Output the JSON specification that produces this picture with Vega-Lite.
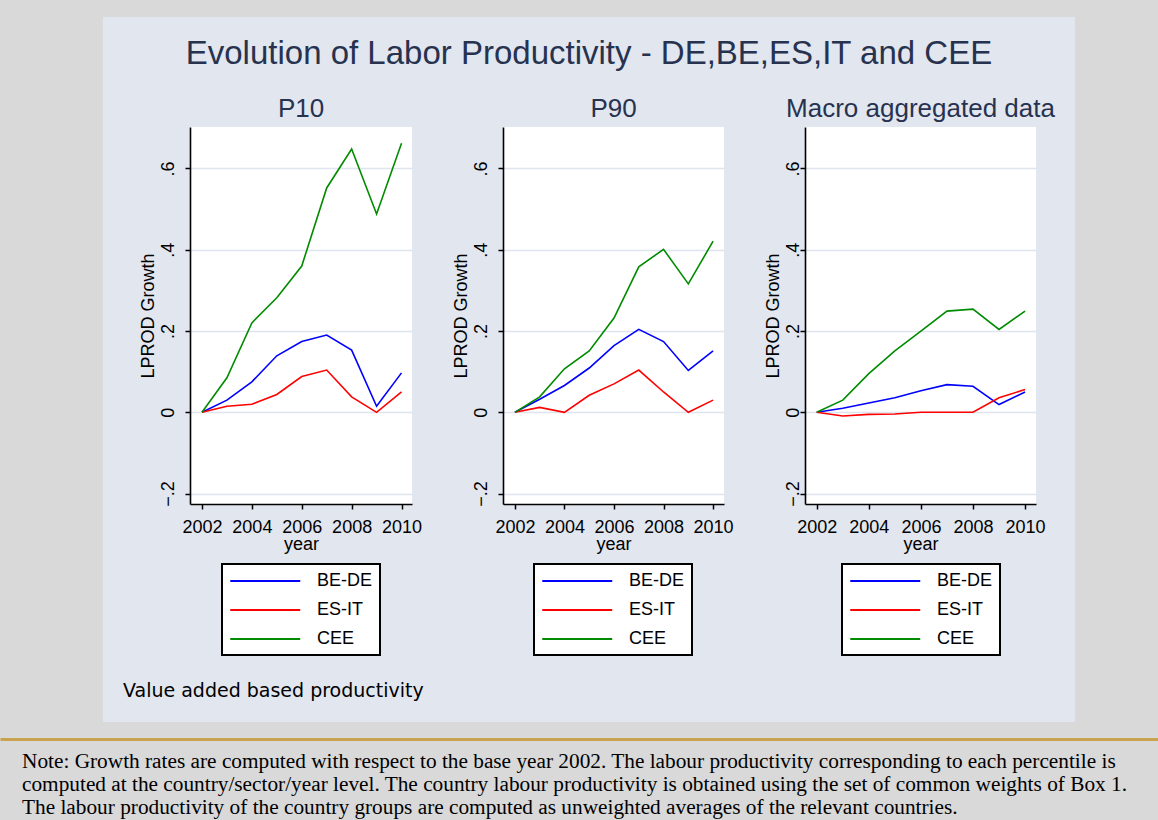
{
  "$schema": "https://vega.github.io/schema/vega-lite/v6.json",
  "background": "#e1e6ef",
  "padding": 0,
  "spacing": 0,
  "datasets": {
    "none": [],
    "lp": [
      {"panel": "P10", "series": "BE-DE", "year": 2002, "value": 0},
      {"panel": "P10", "series": "BE-DE", "year": 2003, "value": 0.030},
      {"panel": "P10", "series": "BE-DE", "year": 2004, "value": 0.075},
      {"panel": "P10", "series": "BE-DE", "year": 2005, "value": 0.139},
      {"panel": "P10", "series": "BE-DE", "year": 2006, "value": 0.174},
      {"panel": "P10", "series": "BE-DE", "year": 2007, "value": 0.190},
      {"panel": "P10", "series": "BE-DE", "year": 2008, "value": 0.153},
      {"panel": "P10", "series": "BE-DE", "year": 2009, "value": 0.015},
      {"panel": "P10", "series": "BE-DE", "year": 2010, "value": 0.097},
      {"panel": "P10", "series": "ES-IT", "year": 2002, "value": 0},
      {"panel": "P10", "series": "ES-IT", "year": 2003, "value": 0.015},
      {"panel": "P10", "series": "ES-IT", "year": 2004, "value": 0.020},
      {"panel": "P10", "series": "ES-IT", "year": 2005, "value": 0.044},
      {"panel": "P10", "series": "ES-IT", "year": 2006, "value": 0.088},
      {"panel": "P10", "series": "ES-IT", "year": 2007, "value": 0.104},
      {"panel": "P10", "series": "ES-IT", "year": 2008, "value": 0.038},
      {"panel": "P10", "series": "ES-IT", "year": 2009, "value": 0.000},
      {"panel": "P10", "series": "ES-IT", "year": 2010, "value": 0.050},
      {"panel": "P10", "series": "CEE", "year": 2002, "value": 0},
      {"panel": "P10", "series": "CEE", "year": 2003, "value": 0.085},
      {"panel": "P10", "series": "CEE", "year": 2004, "value": 0.220},
      {"panel": "P10", "series": "CEE", "year": 2005, "value": 0.282},
      {"panel": "P10", "series": "CEE", "year": 2006, "value": 0.360},
      {"panel": "P10", "series": "CEE", "year": 2007, "value": 0.552},
      {"panel": "P10", "series": "CEE", "year": 2008, "value": 0.648},
      {"panel": "P10", "series": "CEE", "year": 2009, "value": 0.488},
      {"panel": "P10", "series": "CEE", "year": 2010, "value": 0.662},
      {"panel": "P90", "series": "BE-DE", "year": 2002, "value": 0},
      {"panel": "P90", "series": "BE-DE", "year": 2003, "value": 0.032},
      {"panel": "P90", "series": "BE-DE", "year": 2004, "value": 0.066},
      {"panel": "P90", "series": "BE-DE", "year": 2005, "value": 0.109},
      {"panel": "P90", "series": "BE-DE", "year": 2006, "value": 0.164},
      {"panel": "P90", "series": "BE-DE", "year": 2007, "value": 0.204},
      {"panel": "P90", "series": "BE-DE", "year": 2008, "value": 0.174},
      {"panel": "P90", "series": "BE-DE", "year": 2009, "value": 0.103},
      {"panel": "P90", "series": "BE-DE", "year": 2010, "value": 0.151},
      {"panel": "P90", "series": "ES-IT", "year": 2002, "value": 0},
      {"panel": "P90", "series": "ES-IT", "year": 2003, "value": 0.012},
      {"panel": "P90", "series": "ES-IT", "year": 2004, "value": 0.000},
      {"panel": "P90", "series": "ES-IT", "year": 2005, "value": 0.042},
      {"panel": "P90", "series": "ES-IT", "year": 2006, "value": 0.070},
      {"panel": "P90", "series": "ES-IT", "year": 2007, "value": 0.104},
      {"panel": "P90", "series": "ES-IT", "year": 2008, "value": 0.050},
      {"panel": "P90", "series": "ES-IT", "year": 2009, "value": 0.000},
      {"panel": "P90", "series": "ES-IT", "year": 2010, "value": 0.030},
      {"panel": "P90", "series": "CEE", "year": 2002, "value": 0},
      {"panel": "P90", "series": "CEE", "year": 2003, "value": 0.038},
      {"panel": "P90", "series": "CEE", "year": 2004, "value": 0.107},
      {"panel": "P90", "series": "CEE", "year": 2005, "value": 0.151},
      {"panel": "P90", "series": "CEE", "year": 2006, "value": 0.232},
      {"panel": "P90", "series": "CEE", "year": 2007, "value": 0.358},
      {"panel": "P90", "series": "CEE", "year": 2008, "value": 0.401},
      {"panel": "P90", "series": "CEE", "year": 2009, "value": 0.316},
      {"panel": "P90", "series": "CEE", "year": 2010, "value": 0.421},
      {"panel": "Macro", "series": "BE-DE", "year": 2002, "value": 0},
      {"panel": "Macro", "series": "BE-DE", "year": 2003, "value": 0.010},
      {"panel": "Macro", "series": "BE-DE", "year": 2004, "value": 0.023},
      {"panel": "Macro", "series": "BE-DE", "year": 2005, "value": 0.036},
      {"panel": "Macro", "series": "BE-DE", "year": 2006, "value": 0.053},
      {"panel": "Macro", "series": "BE-DE", "year": 2007, "value": 0.068},
      {"panel": "Macro", "series": "BE-DE", "year": 2008, "value": 0.064},
      {"panel": "Macro", "series": "BE-DE", "year": 2009, "value": 0.019},
      {"panel": "Macro", "series": "BE-DE", "year": 2010, "value": 0.050},
      {"panel": "Macro", "series": "ES-IT", "year": 2002, "value": 0},
      {"panel": "Macro", "series": "ES-IT", "year": 2003, "value": -0.009},
      {"panel": "Macro", "series": "ES-IT", "year": 2004, "value": -0.005},
      {"panel": "Macro", "series": "ES-IT", "year": 2005, "value": -0.004},
      {"panel": "Macro", "series": "ES-IT", "year": 2006, "value": 0.000},
      {"panel": "Macro", "series": "ES-IT", "year": 2007, "value": 0.000},
      {"panel": "Macro", "series": "ES-IT", "year": 2008, "value": 0.000},
      {"panel": "Macro", "series": "ES-IT", "year": 2009, "value": 0.036},
      {"panel": "Macro", "series": "ES-IT", "year": 2010, "value": 0.056},
      {"panel": "Macro", "series": "CEE", "year": 2002, "value": 0},
      {"panel": "Macro", "series": "CEE", "year": 2003, "value": 0.030},
      {"panel": "Macro", "series": "CEE", "year": 2004, "value": 0.095},
      {"panel": "Macro", "series": "CEE", "year": 2005, "value": 0.151},
      {"panel": "Macro", "series": "CEE", "year": 2006, "value": 0.200},
      {"panel": "Macro", "series": "CEE", "year": 2007, "value": 0.249},
      {"panel": "Macro", "series": "CEE", "year": 2008, "value": 0.254},
      {"panel": "Macro", "series": "CEE", "year": 2009, "value": 0.204},
      {"panel": "Macro", "series": "CEE", "year": 2010, "value": 0.249}
    ],
    "notes": [
      {"line": 1, "text": "Note: Growth rates are computed with respect to the base year 2002. The labour productivity corresponding to each percentile is"},
      {"line": 2, "text": "computed at the country/sector/year level. The country labour productivity is obtained using the set of common weights of Box 1."},
      {"line": 3, "text": "The labour productivity of the country groups are computed as unweighted averages of the relevant countries."}
    ]
  },
  "config": {
    "font": "Liberation Sans",
    "concat": {"spacing": 0},
    "title": {"font": "Liberation Sans", "fontWeight": "normal", "color": "#27324f", "fontSize": 26, "offset": 5},
    "axis": {
      "labelFont": "Liberation Sans", "labelFontSize": 18, "labelColor": "#000000",
      "titleFont": "Liberation Sans", "titleFontSize": 18, "titleFontWeight": "normal", "titleColor": "#000000",
      "domainColor": "#000000", "domainWidth": 1.6, "tickColor": "#000000", "tickWidth": 1.5, "tickSize": 5
    },
    "axisX": {"grid": false, "labelPadding": 9, "labelFlush": false, "titlePadding": -1},
    "axisY": {"grid": true, "gridColor": "#dfe4ee", "gridWidth": 1.5, "labelAngle": -90, "labelAlign": "center", "labelBaseline": "bottom", "labelPadding": 8, "titlePadding": 2},
    "legend": {
      "orient": "none", "title": null, "symbolType": "M-1,0H7", "symbolSize": 306, "symbolStrokeWidth": 2,
      "labelFont": "Liberation Sans", "labelFontSize": 18, "labelColor": "#000000", "labelOffset": 68,
      "strokeColor": "#000000", "strokeWidth": 2, "fillColor": "#ffffff", "padding": 7, "rowPadding": 10
    },
    "view": {"stroke": null, "fill": "#ffffff"}
  },
  "vconcat": [
    {
      "spacing": 0,
      "hconcat": [
        {"width": 103, "height": 722, "data": {"name": "none"}, "mark": "point", "view": {"fill": "#d9d9d9", "stroke": null}},
        {
          "spacing": 21,
          "vconcat": [
            {"width": 972, "height": 17, "data": {"name": "none"}, "mark": "point", "view": {"fill": "#d9d9d9", "stroke": null}},
            {
              "spacing": 19,
              "hconcat": [
                {"width": 1, "height": 1, "data": {"name": "none"}, "mark": "point", "view": {"fill": null, "stroke": null}},
                {
                  "title": {"text": "Evolution of Labor Productivity - DE,BE,ES,IT and CEE", "fontSize": 33, "anchor": "middle", "offset": 25},
                  "vconcat": [
                    {
                      "title": {"text": "Value added based productivity", "orient": "bottom", "anchor": "start", "font": "DejaVu Sans", "fontSize": 19, "color": "#000000", "offset": 26, "dx": -16},
                      "spacing": 30,
                      "resolve": {"scale": {"x": "independent", "y": "independent", "color": "independent"}, "legend": {"color": "independent"}},
                      "hconcat": [
                        {
                          "width": 222, "height": 377,
                          "title": {"text": "P10"},
                          "data": {"name": "lp"},
                          "transform": [{"filter": "datum.panel === 'P10'"}],
                          "mark": {"type": "line", "strokeWidth": 1.6},
                          "encoding": {
                            "x": {"field": "year", "type": "quantitative", "scale": {"domain": [2001.52, 2010.42], "nice": false, "zero": false}, "axis": {"values": [2002, 2004, 2006, 2008, 2010], "format": "d", "title": "year"}},
                            "y": {"field": "value", "type": "quantitative", "scale": {"domain": [-0.2256, 0.702], "nice": false, "zero": false}, "axis": {"values": [-0.2, 0, 0.2, 0.4, 0.6], "labelExpr": "datum.value == 0 ? '0' : replace(format(datum.value, '.1f'), '0.', '.')", "title": "LPROD Growth"}},
                            "color": {"field": "series", "type": "nominal", "sort": ["BE-DE", "ES-IT", "CEE"], "scale": {"domain": ["BE-DE", "ES-IT", "CEE"], "range": ["#0000ff", "#ff0000", "#008b00"]}, "legend": {"legendX": 32, "legendY": 437}}
                          }
                        },
                        {
                          "width": 221, "height": 377,
                          "title": {"text": "P90"},
                          "data": {"name": "lp"},
                          "transform": [{"filter": "datum.panel === 'P90'"}],
                          "mark": {"type": "line", "strokeWidth": 1.6},
                          "encoding": {
                            "x": {"field": "year", "type": "quantitative", "scale": {"domain": [2001.52, 2010.44], "nice": false, "zero": false}, "axis": {"values": [2002, 2004, 2006, 2008, 2010], "format": "d", "title": "year"}},
                            "y": {"field": "value", "type": "quantitative", "scale": {"domain": [-0.2256, 0.702], "nice": false, "zero": false}, "axis": {"values": [-0.2, 0, 0.2, 0.4, 0.6], "labelExpr": "datum.value == 0 ? '0' : replace(format(datum.value, '.1f'), '0.', '.')", "title": "LPROD Growth"}},
                            "color": {"field": "series", "type": "nominal", "sort": ["BE-DE", "ES-IT", "CEE"], "scale": {"domain": ["BE-DE", "ES-IT", "CEE"], "range": ["#0000ff", "#ff0000", "#008b00"]}, "legend": {"legendX": 31, "legendY": 437}}
                          }
                        },
                        {
                          "width": 231, "height": 377,
                          "title": {"text": "Macro aggregated data"},
                          "data": {"name": "lp"},
                          "transform": [{"filter": "datum.panel === 'Macro'"}],
                          "mark": {"type": "line", "strokeWidth": 1.6},
                          "encoding": {
                            "x": {"field": "year", "type": "quantitative", "scale": {"domain": [2001.55, 2010.42], "nice": false, "zero": false}, "axis": {"values": [2002, 2004, 2006, 2008, 2010], "format": "d", "title": "year"}},
                            "y": {"field": "value", "type": "quantitative", "scale": {"domain": [-0.2256, 0.702], "nice": false, "zero": false}, "axis": {"values": [-0.2, 0, 0.2, 0.4, 0.6], "labelExpr": "datum.value == 0 ? '0' : replace(format(datum.value, '.1f'), '0.', '.')", "title": "LPROD Growth", "labelPadding": -2, "titlePadding": 2}},
                            "color": {"field": "series", "type": "nominal", "sort": ["BE-DE", "ES-IT", "CEE"], "scale": {"domain": ["BE-DE", "ES-IT", "CEE"], "range": ["#0000ff", "#ff0000", "#008b00"]}, "legend": {"legendX": 37, "legendY": 437}}
                          }
                        }
                      ]
                    }
                  ]
                }
              ]
            }
          ]
        },
        {"width": 83, "height": 722, "data": {"name": "none"}, "mark": "point", "view": {"fill": "#d9d9d9", "stroke": null}}
      ]
    },
    {
      "width": 1158, "height": 98,
      "view": {"fill": "#d9d9d9", "stroke": null},
      "data": {"name": "notes"},
      "mark": {"type": "text", "font": "Liberation Serif", "fontSize": 21.3, "align": "left", "baseline": "alphabetic", "color": "#000000", "dx": 22},
      "encoding": {
        "x": {"datum": 0, "type": "quantitative", "scale": {"domain": [0, 1158], "nice": false, "zero": false}, "axis": {"orient": "top", "offset": -17, "domainColor": "#c9a34f", "domainWidth": 3, "ticks": false, "labels": false, "grid": false, "title": null}},
        "y": {"field": "line", "type": "ordinal", "axis": null, "scale": {"type": "point", "range": [46, 92], "padding": 0}},
        "text": {"field": "text"}
      }
    }
  ]
}
